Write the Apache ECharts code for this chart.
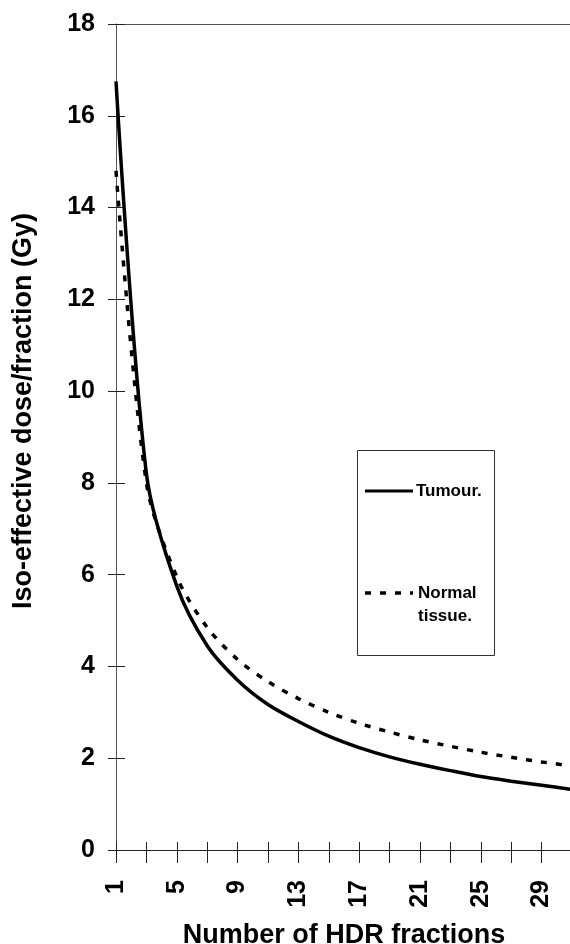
<!DOCTYPE html>
<html>
<head>
<meta charset="utf-8">
<script src="https://cdn.jsdelivr.net/npm/echarts@6/dist/echarts.min.js"></script>
<style>
  html, body { margin: 0; padding: 0; background: #fff; }
  #chart { width: 570px; height: 944px; }
</style>
</head>
<body>
<div id="chart"></div>
<script>
// number of HDR fractions (odd counts only)
var fractions = ['1', '3', '5', '7', '9', '11', '13', '15', '17', '19', '21', '23', '25', '27', '29', '31'];
// iso-effective dose per fraction, Gy
var tumour = [16.75, 8.2, 5.75, 4.45, 3.7, 3.17, 2.8, 2.48, 2.23, 2.03, 1.87, 1.73, 1.6, 1.5, 1.41, 1.32];
var normalTissue = [14.8, 8.0, 5.95, 4.85, 4.15, 3.67, 3.3, 3.0, 2.76, 2.57, 2.4, 2.26, 2.13, 2.02, 1.92, 1.83];

var FONT = '"Liberation Sans", Arial, sans-serif';

var chart = echarts.init(document.getElementById('chart'), null, {renderer: 'canvas'});

var tickStyle = {color: '#222', width: 1};
var labelStyle = {
    color: '#000',
    fontSize: 25,
    fontWeight: 700,
    fontFamily: FONT
};

var option = {
    backgroundColor: '#fff',
    animation: false,
    grid: {
        left: 116,
        top: 24,
        width: 456,
        height: 826,
        outerBoundsMode: 'none',
        containLabel: false
    },
    xAxis: [
        {
            type: 'category',
            data: fractions,
            boundaryGap: false,
            axisLine: {lineStyle: {color: '#222', width: 1}},
            axisTick: {show: true, interval: 0, length: 13, lineStyle: tickStyle},
            axisLabel: Object.assign({interval: 1, rotate: 90, margin: 30}, labelStyle),
            name: 'Number of HDR fractions',
            nameLocation: 'middle',
            nameGap: 72,
            nameTextStyle: {color: '#000', fontSize: 27, fontWeight: 700, fontFamily: FONT}
        },
        {
            // inner half of the crossing tick marks
            type: 'category',
            data: fractions,
            boundaryGap: false,
            position: 'bottom',
            axisLine: {show: false},
            axisTick: {show: true, inside: true, interval: 0, length: 8, lineStyle: tickStyle},
            axisLabel: {show: false}
        },
        {
            // top frame line
            type: 'category',
            data: fractions,
            boundaryGap: false,
            position: 'top',
            axisLine: {show: true, lineStyle: {color: '#555', width: 1}},
            axisTick: {show: false},
            axisLabel: {show: false}
        }
    ],
    yAxis: [
        {
            type: 'value',
            min: 0,
            max: 18,
            interval: 2,
            splitLine: {show: false},
            axisLine: {show: true, lineStyle: {color: '#555', width: 1}},
            axisTick: {show: true, length: 8, lineStyle: tickStyle},
            axisLabel: Object.assign({margin: 21}, labelStyle)
        },
        {
            type: 'value',
            min: 0,
            max: 18,
            interval: 2,
            position: 'left',
            splitLine: {show: false},
            axisLine: {show: false},
            axisTick: {show: true, inside: true, length: 9, lineStyle: tickStyle},
            axisLabel: {show: false}
        }
    ],
    series: [
        {
            name: 'Tumour.',
            type: 'line',
            data: tumour,
            smooth: 0.3,
            showSymbol: false,
            lineStyle: {color: '#000', width: 3.5}
        },
        {
            name: 'Normal tissue.',
            type: 'line',
            data: normalTissue,
            smooth: 0.3,
            showSymbol: false,
            lineStyle: {color: '#000', width: 3.5, type: [6, 9]}
        }
    ],
    graphic: [
        {
            type: 'text',
            x: 24,
            y: 411,
            rotation: Math.PI / 2,
            style: {
                text: 'Iso-effective dose/fraction (Gy)',
                fill: '#000',
                font: 'bold 27px ' + FONT,
                align: 'center',
                verticalAlign: 'middle'
            }
        },
        // legend box
        {
            type: 'rect',
            shape: {x: 357.5, y: 450.5, width: 137, height: 205},
            style: {fill: '#fff', stroke: '#333', lineWidth: 1},
            z: 10
        },
        {
            type: 'line',
            shape: {x1: 365, y1: 491, x2: 413, y2: 491},
            style: {stroke: '#000', lineWidth: 3},
            z: 11
        },
        {
            type: 'text',
            x: 416,
            y: 491,
            style: {text: 'Tumour.', fill: '#000', font: 'bold 17px ' + FONT, verticalAlign: 'middle'},
            z: 11
        },
        {
            type: 'line',
            shape: {x1: 365, y1: 593, x2: 413, y2: 593},
            style: {stroke: '#000', lineWidth: 3.5, lineDash: [6, 9]},
            z: 11
        },
        {
            type: 'text',
            x: 418,
            y: 593,
            style: {text: 'Normal', fill: '#000', font: 'bold 17px ' + FONT, verticalAlign: 'middle'},
            z: 11
        },
        {
            type: 'text',
            x: 418,
            y: 616,
            style: {text: 'tissue.', fill: '#000', font: 'bold 17px ' + FONT, verticalAlign: 'middle'},
            z: 11
        }
    ]
};

chart.setOption(option);
</script>
</body>
</html>
